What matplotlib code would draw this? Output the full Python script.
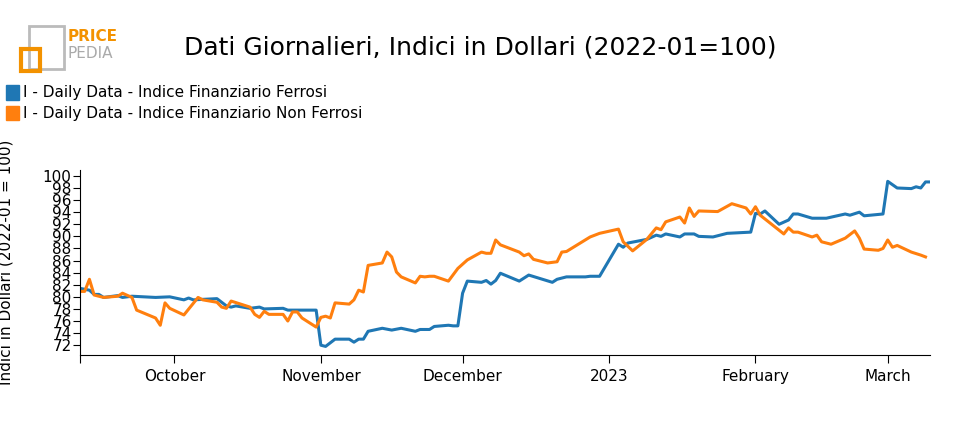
import pandas as pd
import matplotlib.pyplot as plt
from matplotlib.patches import Rectangle

# Indice Finanziario Ferrosi (blue)
fer_dates = ["2022-09-11","2022-09-13","2022-09-14","2022-09-15","2022-09-16","2022-09-19","2022-09-20",
             "2022-09-22","2022-09-27","2022-09-30","2022-10-03","2022-10-04","2022-10-05","2022-10-10",
             "2022-10-12","2022-10-13","2022-10-14","2022-10-17","2022-10-19","2022-10-20","2022-10-24",
             "2022-10-25","2022-10-31","2022-11-01","2022-11-02","2022-11-04","2022-11-07","2022-11-08",
             "2022-11-09","2022-11-10","2022-11-11","2022-11-14","2022-11-16","2022-11-18","2022-11-21",
             "2022-11-22","2022-11-24","2022-11-25","2022-11-28","2022-11-29","2022-11-30","2022-12-01",
             "2022-12-02","2022-12-05","2022-12-06","2022-12-07","2022-12-08","2022-12-09","2022-12-13",
             "2022-12-15","2022-12-20","2022-12-21","2022-12-23","2022-12-27","2022-12-28","2022-12-30",
             "2023-01-03","2023-01-04","2023-01-05","2023-01-09","2023-01-11","2023-01-12","2023-01-13",
             "2023-01-16","2023-01-17","2023-01-19","2023-01-20","2023-01-23","2023-01-26","2023-01-31",
             "2023-02-01","2023-02-02","2023-02-03","2023-02-06","2023-02-08","2023-02-09","2023-02-10",
             "2023-02-13","2023-02-16","2023-02-20","2023-02-21","2023-02-23","2023-02-24","2023-02-28",
             "2023-03-01","2023-03-03","2023-03-06","2023-03-07","2023-03-08","2023-03-09","2023-03-10"]
fer_values = [81.4,81.1,80.4,80.4,79.9,80.2,79.9,80.1,79.9,80.0,79.5,79.8,79.5,79.7,78.5,78.3,78.5,78.1,
              78.3,78.0,78.1,77.8,77.8,72.0,71.8,73.0,73.0,72.5,73.0,73.0,74.3,74.8,74.5,74.8,74.3,74.6,
              74.6,75.1,75.3,75.2,75.2,80.6,82.6,82.4,82.7,82.1,82.7,83.9,82.6,83.6,82.4,82.9,83.3,83.3,
              83.4,83.4,88.7,88.2,88.9,89.5,90.2,90.0,90.4,89.9,90.4,90.4,90.0,89.9,90.5,90.7,93.8,93.7,
              94.2,92.0,92.7,93.7,93.7,93.0,93.0,93.7,93.5,94.0,93.4,93.7,99.1,98.0,97.9,98.2,98.0,99.0,99.0]

# Indice Finanziario Non Ferrosi (orange)
nf_dates = ["2022-09-11","2022-09-12","2022-09-13","2022-09-14","2022-09-16","2022-09-19","2022-09-20",
            "2022-09-22","2022-09-23","2022-09-27","2022-09-28","2022-09-29","2022-09-30","2022-10-03",
            "2022-10-06","2022-10-07","2022-10-10","2022-10-11","2022-10-12","2022-10-13","2022-10-17",
            "2022-10-18","2022-10-19","2022-10-20","2022-10-21","2022-10-24","2022-10-25","2022-10-26",
            "2022-10-27","2022-10-28","2022-10-31","2022-11-01","2022-11-02","2022-11-03","2022-11-04",
            "2022-11-07","2022-11-08","2022-11-09","2022-11-10","2022-11-11","2022-11-14","2022-11-15",
            "2022-11-16","2022-11-17","2022-11-18","2022-11-21","2022-11-22","2022-11-23","2022-11-24",
            "2022-11-25","2022-11-28","2022-11-30","2022-12-02","2022-12-05","2022-12-06","2022-12-07",
            "2022-12-08","2022-12-09","2022-12-13","2022-12-14","2022-12-15","2022-12-16","2022-12-19",
            "2022-12-21","2022-12-22","2022-12-23","2022-12-28","2022-12-30","2023-01-03","2023-01-04",
            "2023-01-06","2023-01-09","2023-01-11","2023-01-12","2023-01-13","2023-01-16","2023-01-17",
            "2023-01-18","2023-01-19","2023-01-20","2023-01-24","2023-01-27","2023-01-30","2023-01-31",
            "2023-02-01","2023-02-02","2023-02-07","2023-02-08","2023-02-09","2023-02-10","2023-02-13",
            "2023-02-14","2023-02-15","2023-02-17","2023-02-20","2023-02-22","2023-02-23","2023-02-24",
            "2023-02-27","2023-02-28","2023-03-01","2023-03-02","2023-03-03","2023-03-06","2023-03-08",
            "2023-03-09"]
nf_values = [80.9,80.9,82.9,80.3,79.9,80.1,80.6,79.9,77.8,76.5,75.3,79.0,78.1,77.0,79.9,79.5,79.1,78.3,
             78.1,79.3,78.3,77.1,76.6,77.6,77.1,77.1,76.0,77.5,77.5,76.5,75.0,76.6,76.8,76.5,79.0,78.8,
             79.5,81.1,80.8,85.2,85.6,87.4,86.6,84.1,83.3,82.3,83.4,83.3,83.4,83.4,82.6,84.7,86.1,87.4,
             87.2,87.2,89.4,88.6,87.4,86.8,87.1,86.2,85.6,85.8,87.4,87.5,89.9,90.5,91.2,89.1,87.6,89.5,
             91.4,91.1,92.4,93.2,92.2,94.7,93.3,94.2,94.1,95.4,94.7,93.7,94.9,93.5,90.4,91.4,90.7,90.7,
             89.9,90.2,89.1,88.7,89.7,90.9,89.7,87.9,87.7,88.0,89.4,88.2,88.5,87.4,86.9,86.6]

month_ticks = ["2022-10-01", "2022-11-01", "2022-12-01", "2023-01-01", "2023-02-01", "2023-03-01"]
month_labels = ["October", "November", "December", "2023", "February", "March"]
y_ticks = list(range(72, 101, 2))

blue = "#1f77b4"
orange = "#ff7f0e"

fig = plt.figure(figsize=(9.6, 4.3), dpi=100)
ax = fig.add_axes([0.0833, 0.174, 0.8857, 0.431])

ax.plot(pd.to_datetime(fer_dates), fer_values, color=blue, lw=2.2)
ax.plot(pd.to_datetime(nf_dates), nf_values, color=orange, lw=2.2)

ax.set_xlim(pd.Timestamp("2022-09-11"), pd.Timestamp("2023-03-10"))
ax.set_ylim(70.35, 101)
ax.set_yticks(y_ticks)
ax.set_yticklabels([str(v) for v in y_ticks], fontsize=11)
xt = [pd.Timestamp("2022-09-11")] + list(pd.to_datetime(month_ticks))
ax.set_xticks(xt)
ax.set_xticklabels([""] + month_labels, fontsize=11)
ax.tick_params(axis="x", length=6, pad=4)
ax.tick_params(axis="y", length=5, pad=1)
ax.spines["top"].set_visible(False)
ax.spines["right"].set_visible(False)
ax.set_ylabel("Indici in Dollari (2022-01 = 100)", fontsize=11)
ax.yaxis.set_label_coords(-0.078, 0.5)

fig.text(0.5, 0.89, "Dati Giornalieri, Indici in Dollari (2022-01=100)", ha="center", va="center", fontsize=18)

# legend
fig.patches.append(Rectangle((0.006, 0.768), 0.014, 0.034, color=blue, transform=fig.transFigure))
fig.text(0.024, 0.784, "I - Daily Data - Indice Finanziario Ferrosi", fontsize=11, va="center")
fig.patches.append(Rectangle((0.006, 0.72), 0.014, 0.034, color=orange, transform=fig.transFigure))
fig.text(0.024, 0.736, "I - Daily Data - Indice Finanziario Non Ferrosi", fontsize=11, va="center")

# logo
fig.patches.append(Rectangle((0.030, 0.84), 0.037, 0.10, fill=False, ec="#bbbbbb", lw=2, transform=fig.transFigure))
fig.patches.append(Rectangle((0.022, 0.835), 0.02, 0.05, fill=False, ec="#f39200", lw=3, transform=fig.transFigure))
fig.text(0.070, 0.915, "PRICE", fontsize=11, color="#f39200", fontweight="bold", va="center")
fig.text(0.070, 0.875, "PEDIA", fontsize=11, color="#aaaaaa", va="center")

fig.savefig("out.png", dpi=100)
